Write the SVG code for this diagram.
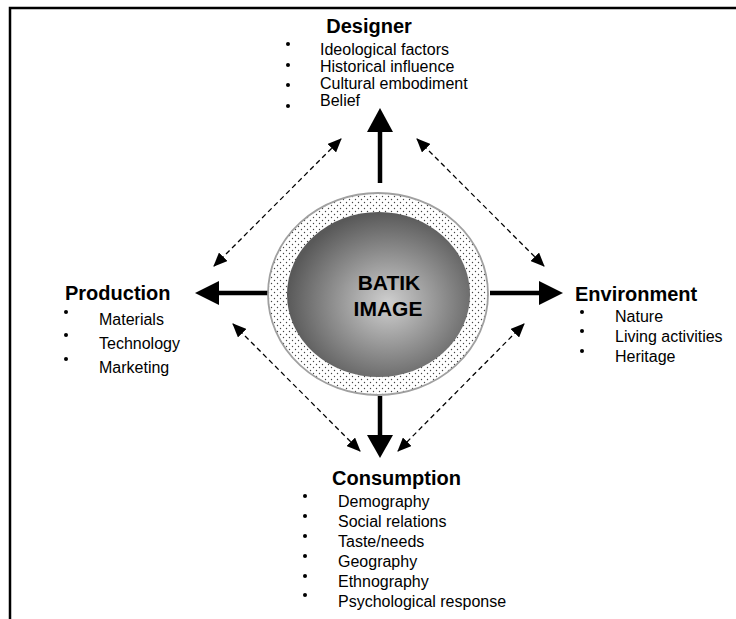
<svg xmlns="http://www.w3.org/2000/svg" width="736" height="619" viewBox="0 0 736 619">
<style>
.h{font-family:"Liberation Sans",Arial,sans-serif;font-weight:bold;font-size:20px;fill:#000}
.t{font-family:"Liberation Sans",Arial,sans-serif;font-size:16px;fill:#000}
.c{font-family:"Liberation Sans",Arial,sans-serif;font-weight:bold;font-size:21px;fill:#000}
.shaft{stroke:#000;stroke-width:4.5;fill:none}
.dash{stroke:#000;stroke-width:1.3;stroke-dasharray:5,3.5;fill:none;marker-start:url(#ah);marker-end:url(#ah)}
.b{fill:#000}
</style>
<defs>
<marker id="ah" viewBox="0 0 14 12" refX="13" refY="6" markerWidth="14" markerHeight="12" markerUnits="userSpaceOnUse" orient="auto-start-reverse">
<path d="M0,0 L14,6 L0,12 Z" fill="#000"/>
</marker>
<pattern id="dots" width="6" height="6" patternUnits="userSpaceOnUse">
<rect width="6" height="6" fill="#fff"/>
<circle cx="1.5" cy="1.5" r="0.7" fill="#444"/>
<circle cx="4.5" cy="4.5" r="0.7" fill="#444"/>
</pattern>
<radialGradient id="g" cx="0.55" cy="0.55" r="0.55">
<stop offset="0" stop-color="#cfcfcf"/>
<stop offset="1" stop-color="#595959"/>
</radialGradient>
</defs>
<rect width="736" height="619" fill="#fff"/>
<path d="M10,619 L10,8 L736,8" stroke="#000" stroke-width="2.5" fill="none"/>

<g id="connectors">
<line class="shaft" x1="380" y1="183" x2="380" y2="130"/>
<polygon points="380,108 367,132 393,132"/>
<line class="shaft" x1="268" y1="293" x2="216" y2="293"/>
<polygon points="195,293 219,281 219,305"/>
<line class="shaft" x1="490" y1="293" x2="542" y2="293"/>
<polygon points="563,293 539,281 539,305"/>
<line class="shaft" x1="380" y1="396" x2="380" y2="438"/>
<polygon points="380,458 367,435 393,435"/>
<line class="dash" x1="214" y1="266" x2="341" y2="139"/>
<line class="dash" x1="417" y1="139" x2="544" y2="266"/>
<line class="dash" x1="233" y1="324" x2="360" y2="451"/>
<line class="dash" x1="524" y1="324" x2="398" y2="451"/>
</g>

<g id="batik-image">
<ellipse cx="378" cy="294" rx="110" ry="101" fill="url(#dots)" stroke="#a0a0a0" stroke-width="1.8"/>
<ellipse cx="378.5" cy="294.5" rx="91.5" ry="82.5" fill="url(#g)"/>
<text class="c" x="389" y="290" text-anchor="middle">BATIK</text>
<text class="c" x="388" y="316" text-anchor="middle">IMAGE</text>
</g>

<g id="designer">
<text class="h" x="369" y="33" text-anchor="middle">Designer</text>
<circle class="b" cx="288" cy="44" r="2"/>
<circle class="b" cx="288" cy="65" r="2"/>
<circle class="b" cx="288" cy="85" r="2"/>
<circle class="b" cx="288" cy="106" r="2"/>
<text class="t" x="320" y="55">Ideological factors</text>
<text class="t" x="320" y="72">Historical influence</text>
<text class="t" x="320" y="89">Cultural embodiment</text>
<text class="t" x="320" y="106">Belief</text>
</g>

<g id="production">
<text class="h" x="65" y="300">Production</text>
<circle class="b" cx="66" cy="312" r="2"/>
<circle class="b" cx="66" cy="335" r="2"/>
<circle class="b" cx="66" cy="359" r="2"/>
<text class="t" x="99" y="325">Materials</text>
<text class="t" x="99" y="349">Technology</text>
<text class="t" x="99" y="373">Marketing</text>
</g>

<g id="environment">
<text class="h" x="575" y="301">Environment</text>
<circle class="b" cx="582" cy="312" r="2"/>
<circle class="b" cx="582" cy="331" r="2"/>
<circle class="b" cx="582" cy="351" r="2"/>
<text class="t" x="615" y="322">Nature</text>
<text class="t" x="615" y="342">Living activities</text>
<text class="t" x="615" y="362">Heritage</text>
</g>

<g id="consumption">
<text class="h" x="332" y="485">Consumption</text>
<circle class="b" cx="305" cy="496" r="2"/>
<circle class="b" cx="305" cy="516" r="2"/>
<circle class="b" cx="305" cy="536" r="2"/>
<circle class="b" cx="305" cy="556" r="2"/>
<circle class="b" cx="305" cy="576" r="2"/>
<circle class="b" cx="305" cy="595" r="2"/>
<text class="t" x="338" y="507">Demography</text>
<text class="t" x="338" y="527">Social relations</text>
<text class="t" x="338" y="547">Taste/needs</text>
<text class="t" x="338" y="567">Geography</text>
<text class="t" x="338" y="587">Ethnography</text>
<text class="t" x="338" y="607">Psychological response</text>
</g>
</svg>
